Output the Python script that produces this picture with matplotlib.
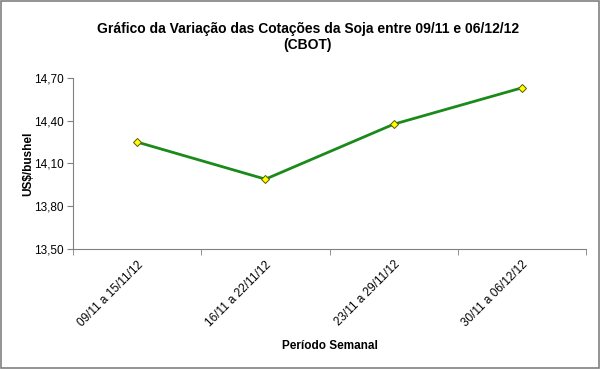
import matplotlib
matplotlib.use("Agg")
import matplotlib.pyplot as plt
from matplotlib.patches import Rectangle
from matplotlib.ticker import FixedLocator

plt.rcParams["font.family"] = ["Liberation Sans", "DejaVu Sans"]

# data
periods = ["09/11 a 15/11/12", "16/11 a 22/11/12", "23/11 a 29/11/12", "30/11 a 06/12/12"]
prices = [14.25, 13.99, 14.375, 14.63]
yticks = [13.50, 13.80, 14.10, 14.40, 14.70]

fig = plt.figure(figsize=(6, 3.69), dpi=100)
fig.patches.append(Rectangle((0.002, 0.003), 0.996, 0.994, transform=fig.transFigure,
                             fill=False, edgecolor="#808080", linewidth=1.2))

ax = fig.add_axes([0.1217, 0.325, 0.855, 0.464])
x = list(range(len(periods)))
ax.plot(x, prices, color="#1a8a1a", linewidth=2, marker="D", markersize=4,
        markerfacecolor="#ffff00", markeredgecolor="#5a5a00", markeredgewidth=0.7)

ax.set_xlim(-0.5, len(periods) - 0.5)
ax.set_ylim(13.50, 14.70)
ax.set_yticks(yticks)
ax.set_yticklabels([f"{v:.2f}".replace(".", ",") for v in yticks], fontsize=8.5)
ax.set_xticks(x)
ax.set_xticklabels(periods, fontsize=8.5, rotation=45, ha="right", rotation_mode="anchor")
ax.xaxis.set_minor_locator(FixedLocator([i - 0.5 for i in range(len(periods) + 1)]))
ax.tick_params(axis="x", which="major", length=0, pad=7)
ax.tick_params(axis="x", which="minor", length=4, color="#808080")
ax.tick_params(axis="y", length=4, color="#808080", pad=3)

for side in ["top", "right"]:
    ax.spines[side].set_visible(False)
for side in ["left", "bottom"]:
    ax.spines[side].set_color("#808080")

fig.text(0.513, 0.90, "Gráfico da Variação das Cotações da Soja entre 09/11 e 06/12/12\n(CBOT)",
         ha="center", va="center", fontsize=10, fontweight="bold", linespacing=1.15)
fig.text(0.55, 0.063, "Período Semanal", ha="center", va="center", fontsize=8.5, fontweight="bold")
fig.text(0.047, 0.555, "US$/bushel", ha="center", va="center", rotation=90,
         fontsize=8.5, fontweight="bold")

fig.savefig("out.png", dpi=100)
